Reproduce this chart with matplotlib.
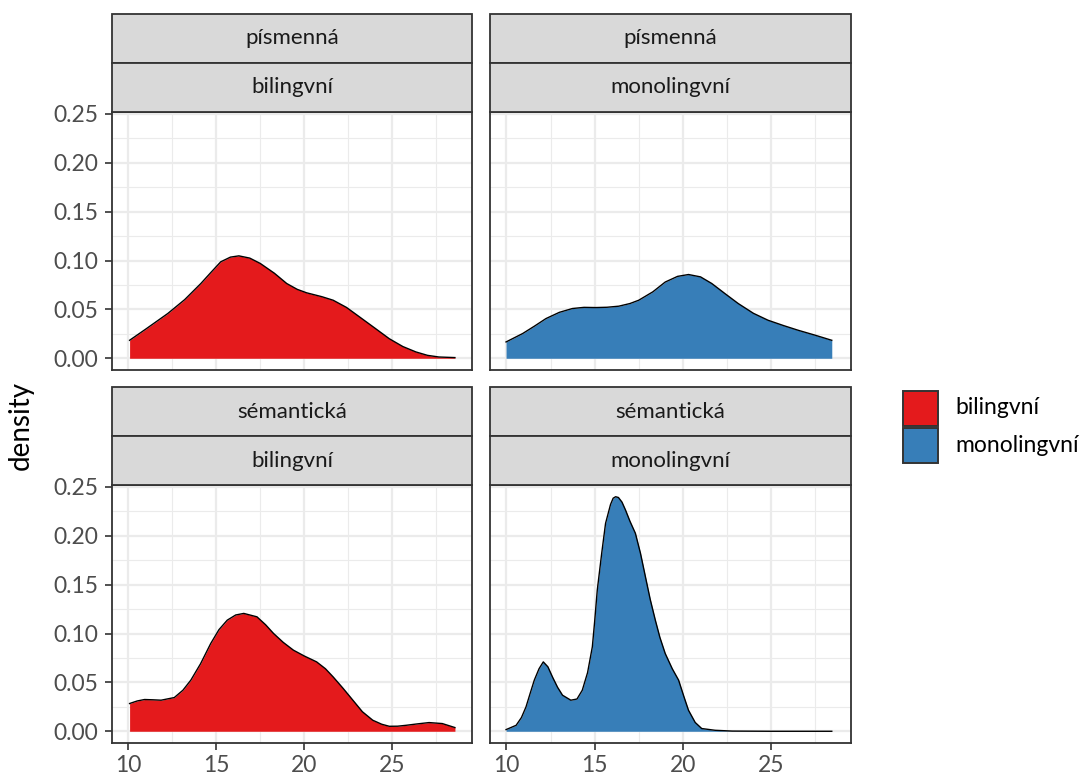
import numpy as np
import matplotlib
matplotlib.use("Agg")
import matplotlib.pyplot as plt
from matplotlib.patches import Rectangle
from matplotlib.ticker import MultipleLocator

plt.rcParams["font.family"] = ["Lato", "DejaVu Sans"]

# --- data ---
groups = ["bilingvní", "monolingvní"]
tasks = ["písmenná", "sémantická"]
colors = {"bilingvní": "#E41A1C", "monolingvní": "#377EB8"}

# písmenná / bilingvní
x_pis_bi = [10.07, 11.0, 12.24, 13.2, 14.12, 14.7, 15.25, 15.8, 16.28, 16.9, 17.5, 18.3, 19.0,
            19.6, 20.13, 21.0, 21.64, 22.4, 23.14, 24.0, 24.83, 25.6, 26.34, 27.0, 27.65, 28.56]
y_pis_bi = [0.0184, 0.030, 0.0458, 0.060, 0.0765, 0.088, 0.0987, 0.1035, 0.1048, 0.1025, 0.097,
            0.087, 0.0765, 0.0705, 0.067, 0.063, 0.0594, 0.052, 0.0423, 0.031, 0.020, 0.012,
            0.0065, 0.003, 0.0013, 0.0007]

# písmenná / monolingvní
x_pis_mo = [9.98, 10.92, 11.6, 12.24, 13.0, 13.74, 14.4, 15.06, 15.7, 16.37, 17.0, 17.5, 18.3,
            19.0, 19.7, 20.32, 21.0, 21.64, 22.4, 23.14, 24.0, 24.83, 25.7, 26.53, 27.5, 28.44]
y_pis_mo = [0.0167, 0.0253, 0.033, 0.0406, 0.047, 0.0509, 0.0521, 0.0519, 0.0522, 0.0533, 0.056,
            0.0594, 0.068, 0.078, 0.0838, 0.0857, 0.0833, 0.0765, 0.066, 0.056, 0.046, 0.0389,
            0.0335, 0.0287, 0.0236, 0.0184]

# sémantická / bilingvní
x_sem_bi = [10.07, 10.5, 10.92, 11.4, 11.86, 12.61, 13.1, 13.55, 14.1, 14.68, 15.15, 15.62, 16.1,
            16.56, 17.31, 17.8, 18.25, 18.8, 19.38, 20.0, 20.7, 21.2, 21.64, 22.2, 22.76, 23.3,
            23.89, 24.4, 24.83, 25.3, 25.78, 26.4, 27.09, 27.84, 28.56]
y_sem_bi = [0.0284, 0.031, 0.0325, 0.0322, 0.0318, 0.0345, 0.042, 0.0523, 0.069, 0.0898, 0.104,
            0.1137, 0.119, 0.1206, 0.1171, 0.109, 0.1001, 0.091, 0.083, 0.077, 0.071, 0.064,
            0.0556, 0.044, 0.0318, 0.020, 0.0113, 0.0072, 0.0051, 0.0052, 0.0061, 0.0075,
            0.0089, 0.0079, 0.0038]

# sémantická / monolingvní
x_sem_mo = [9.98, 10.55, 10.85, 11.11, 11.35, 11.58, 11.85, 12.09, 12.35, 12.61, 12.9, 13.18,
            13.65, 14.0, 14.3, 14.6, 14.87, 15.0, 15.15, 15.4, 15.62, 15.9, 16.05, 16.19, 16.35,
            16.55, 16.75, 17.0, 17.31, 17.6, 17.88, 18.15, 18.44, 18.7, 19.0, 19.4, 19.76, 20.05,
            20.32, 20.7, 21.07, 21.83, 22.8, 25.0, 28.44]
y_sem_mo = [0.0017, 0.0061, 0.014, 0.0249, 0.039, 0.0523, 0.064, 0.071, 0.066, 0.0556, 0.045,
            0.0369, 0.0318, 0.033, 0.042, 0.060, 0.0864, 0.112, 0.1445, 0.182, 0.2128, 0.232,
            0.2385, 0.24, 0.2392, 0.2345, 0.2264, 0.215, 0.2026, 0.182, 0.158, 0.135, 0.1137,
            0.096, 0.0796, 0.064, 0.0523, 0.036, 0.0215, 0.009, 0.0028, 0.001, 0.0002, 0.0, 0.0]

series = {
    ("písmenná", "bilingvní"): (x_pis_bi, y_pis_bi),
    ("písmenná", "monolingvní"): (x_pis_mo, y_pis_mo),
    ("sémantická", "bilingvní"): (x_sem_bi, y_sem_bi),
    ("sémantická", "monolingvní"): (x_sem_mo, y_sem_mo),
}

x_ticks = [10, 15, 20, 25]
y_ticks = [0.00, 0.05, 0.10, 0.15, 0.20, 0.25]

# --- layout (figure pixels) ---
W, H = 1082, 778
fig = plt.figure(figsize=(W / 100, H / 100), dpi=100)

col_x = [(112, 472), (490, 851)]
row_y = [(112, 370), (485, 743)]       # panel top/bottom
strip_y = [(14, 62.5, 112), (387, 436, 485)]

grey20 = "#333333"
xlim = (9.07, 29.53)
ylim = (-0.012, 0.252)


def fx(px):
    return px / W


def fy(py):
    return 1 - py / H


for r, task in enumerate(tasks):
    for c, grp in enumerate(groups):
        x0, x1 = col_x[c]
        top, bot = row_y[r]
        ax = fig.add_axes([fx(x0), fy(bot), (x1 - x0) / W, (bot - top) / H])
        xs, ys = series[(task, grp)]
        ax.fill_between(xs, ys, 0, color=colors[grp], linewidth=0, zorder=2)
        ax.plot(xs, ys, color="black", linewidth=1.0, zorder=3)
        ax.set_xlim(*xlim)
        ax.set_ylim(*ylim)
        ax.set_xticks(x_ticks)
        ax.set_yticks(y_ticks)
        ax.xaxis.set_minor_locator(MultipleLocator(2.5))
        ax.yaxis.set_minor_locator(MultipleLocator(0.025))
        ax.grid(which="major", color="#EBEBEB", linewidth=1.6, zorder=0)
        ax.grid(which="minor", color="#EBEBEB", linewidth=0.8, zorder=0)
        ax.set_axisbelow(True)
        for s in ax.spines.values():
            s.set_color(grey20)
            s.set_linewidth(1.3)
        ax.tick_params(which="minor", length=0)
        ax.tick_params(which="major", length=5, width=1.2, color=grey20,
                       labelsize=16.5, labelcolor="#4D4D4D")
        ax.tick_params(axis="x", pad=4)
        ax.tick_params(axis="y", pad=5)
        if r == 0:
            ax.tick_params(axis="x", length=0, labelbottom=False)
        else:
            ax.set_xticklabels([str(t) for t in x_ticks])
        if c == 1:
            ax.tick_params(axis="y", length=0, labelleft=False)
        else:
            ax.set_yticklabels([f"{t:.2f}" for t in y_ticks])

        # strips
        s_top, s_mid, s_bot = strip_y[r]
        for (a, b), label in [((s_top, s_mid), task), ((s_mid, s_bot), grp)]:
            fig.patches.append(Rectangle((fx(x0), fy(b)), (x1 - x0) / W, (b - a) / H,
                                         transform=fig.transFigure, facecolor="#D9D9D9",
                                         edgecolor=grey20, linewidth=1.3))
            fig.text(fx((x0 + x1) / 2), fy((a + b) / 2), label, ha="center", va="center",
                     fontsize=16, color="#1A1A1A")

fig.text(fx(21), fy(426), "density", rotation=90, ha="center", va="center",
         fontsize=20, color="black")

# legend
for i, grp in enumerate(groups):
    ky = 391 + i * 37
    fig.patches.append(Rectangle((fx(903), fy(ky + 35)), 35 / W, 35 / H,
                                 transform=fig.transFigure, facecolor=colors[grp],
                                 edgecolor=grey20, linewidth=1.4))
    fig.text(fx(955), fy(ky + 17), grp, ha="left", va="center", fontsize=16.5, color="black")

fig.savefig("out.png", dpi=100)
